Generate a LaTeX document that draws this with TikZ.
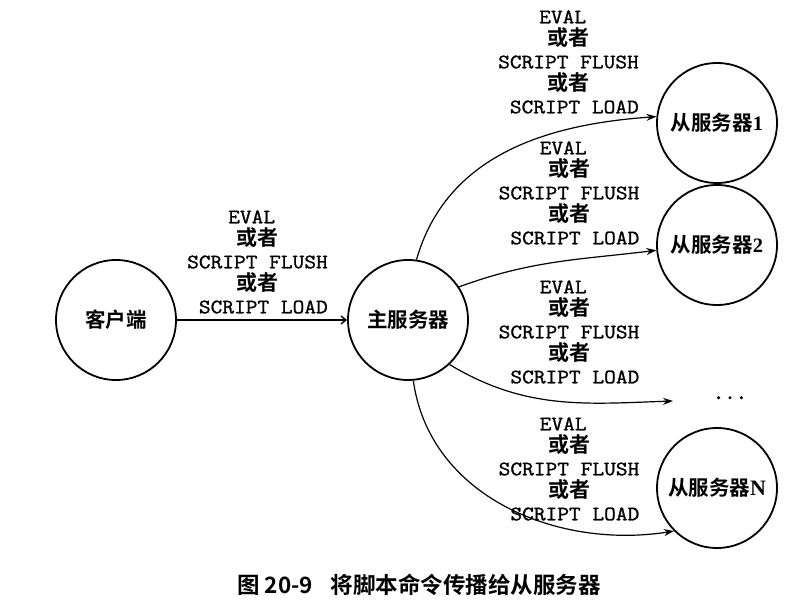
\documentclass[tikz,border=0pt]{standalone}
\usepackage{fontspec}
\setmainfont{Liberation Serif}
\newfontfamily\cjkfont{Noto Sans CJK SC}[BoldFont={Noto Sans CJK SC Bold}]
\newfontfamily\monofont{Latin Modern Mono}[FakeStretch=1.11,FakeBold=1.2]
\newfontfamily\dotfont{Latin Modern Mono}[FakeBold=3]
\usetikzlibrary{arrows.meta}
\newcommand{\cmdtext}{%
{\monofont EVAL\phantom{X}}\\
{\cjkfont\bfseries\fontsize{21}{22.5}\selectfont 或者}\\
{\monofont SCRIPT FLUSH}\\
{\cjkfont\bfseries\fontsize{21}{22.5}\selectfont 或者}\\
{\monofont\phantom{X}SCRIPT LOAD}}
\begin{document}
\begin{tikzpicture}[x=1pt,y=1pt,
  srv/.style={circle,draw,line width=1.8pt,minimum size=120pt,inner sep=0pt,
    font=\fontsize{20.5}{24}\selectfont\cjkfont\bfseries},
  lbl/.style={align=center,inner sep=0pt,font=\fontsize{20.5}{22.5}\selectfont},
  conn/.style={line width=1.2pt,-{Stealth[length=10pt,width=7pt]}},
  carrow/.style={line width=1.4pt,-{Straight Barb[length=5pt,width=8pt]}}]
\useasboundingbox (0,0) rectangle (800,613);
\node[srv] (c) at (116,293) {客户端};
\node[srv] (m) at (408,293) {主服务器};
\node[srv] (s1) at (717,490) {从服务器{\rmfamily\bfseries 1}};
\node[srv] (s2) at (717,368) {从服务器{\rmfamily\bfseries 2}};
\node[srv] (sN) at (717,125) {从服务器{\rmfamily\bfseries\fontsize{22}{24}\selectfont N}};
\node[anchor=base,inner sep=0pt,font=\fontsize{22}{22.5}\selectfont\dotfont] (dots) at (730,214) {...};
\coordinate (dotend) at (673,212);

\node[lbl] (l0) at (257.5,351) {\cmdtext};
\node[lbl] (l1) at (568.5,551) {\cmdtext};
\node[lbl] (l2) at (569,420) {\cmdtext};
\node[lbl] (l3) at (569,281) {\cmdtext};
\node[lbl] (l4) at (569,144) {\cmdtext};

\draw[carrow] (c) -- (m);
\draw[conn] (m.82) to[out=74,in=184] (s1.174);
\draw[conn] (m.33) to[out=20,in=187] (s2.185);
\draw[conn] (m.-47) to[out=-31,in=182] (dotend);
\draw[conn] (m.-85) to[out=-82,in=189] (sN.225);

\node[font=\fontsize{22.5}{26}\selectfont\cjkfont\bfseries] (cap) at (419,28) {图 20-9\hspace{18pt}将脚本命令传播给从服务器};
\end{tikzpicture}
\end{document}
